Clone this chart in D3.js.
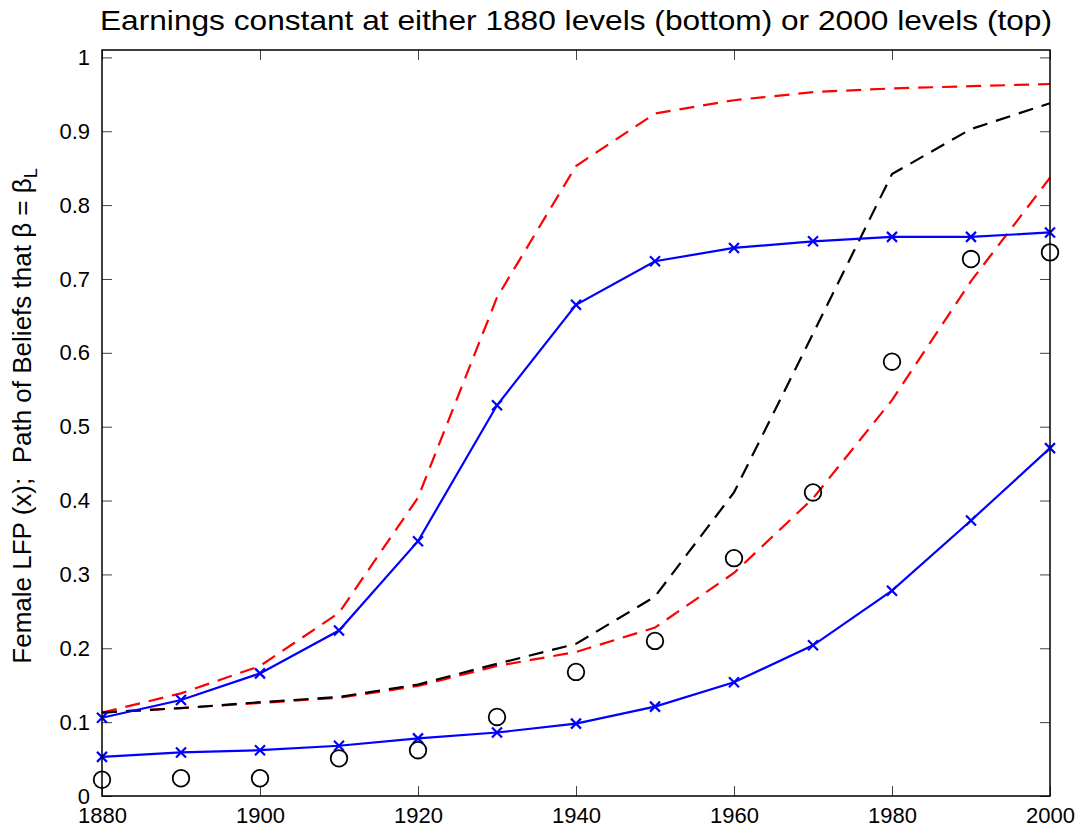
<!DOCTYPE html>
<html>
<head>
<meta charset="utf-8">
<script src="https://cdn.jsdelivr.net/npm/d3@7"></script>
<style>
  body { margin: 0; background: #fff; }
  svg { font-family: "Liberation Sans", Arial, sans-serif; }
  .tick text { font-size: 22px; fill: #000; }
  .tick line { stroke: #444; }
</style>
</head>
<body>
<div class="chart"></div>
<script>
// decades on the x axis
let years = [1880, 1890, 1900, 1910, 1920, 1930, 1940, 1950, 1960, 1970, 1980, 1990, 2000];
// female LFP, earnings at 2000 levels (top) and 1880 levels (bottom)
let lfpTop = [0.106, 0.130, 0.166, 0.224, 0.345, 0.529, 0.665, 0.724, 0.742, 0.751, 0.757, 0.757, 0.763];
let lfpBottom = [0.053, 0.059, 0.062, 0.068, 0.078, 0.086, 0.098, 0.121, 0.154, 0.204, 0.278, 0.373, 0.471];
// path of beliefs
let beliefsTop = [0.113, 0.139, 0.176, 0.248, 0.404, 0.675, 0.853, 0.924, 0.942, 0.953, 0.958, 0.961, 0.964];
let beliefsBottom = [0.113, 0.119, 0.126, 0.133, 0.149, 0.176, 0.195, 0.228, 0.302, 0.403, 0.536, 0.697, 0.837];
let beliefsBlack = [0.113, 0.119, 0.127, 0.134, 0.151, 0.179, 0.206, 0.270, 0.411, 0.626, 0.842, 0.903, 0.938];
// observed data (circles)
let observed = [0.022, 0.024, 0.024, 0.051, 0.062, 0.107, 0.168, 0.210, 0.322, 0.411, 0.588, 0.727, 0.736];

let xTicks = [1880, 1900, 1920, 1940, 1960, 1980, 2000];
let yTicks = [0, 0.1, 0.2, 0.3, 0.4, 0.5, 0.6, 0.7, 0.8, 0.9, 1];

let svgWidth = 1080;
let svgHeight = 830;
let margin = { top: 50, right: 30, bottom: 34, left: 102 };
let width = svgWidth - margin.left - margin.right;
let height = svgHeight - margin.top - margin.bottom;

let svg = d3.select(".chart")
  .append("svg")
  .attr("width", svgWidth)
  .attr("height", svgHeight);

let chartGroup = svg.append("g")
  .attr("transform", `translate(${margin.left}, ${margin.top})`);

let xScale = d3.scaleLinear().domain([1880, 2000]).range([0, width]);
let yScale = d3.scaleLinear().domain([0, 1.01]).range([height, 0]);

// axes with inward ticks on all four sides (matlab box style)
let bottomAxis = d3.axisBottom(xScale).tickValues(xTicks).tickFormat(d3.format("d"))
  .tickSizeInner(-10).tickSizeOuter(0).tickPadding(11);
let leftAxis = d3.axisLeft(yScale).tickValues(yTicks).tickFormat(d => d === 0 || d === 1 ? d : d3.format(".1f")(d))
  .tickSizeInner(-10).tickSizeOuter(0).tickPadding(12);
let topAxis = d3.axisTop(xScale).tickValues(xTicks).tickFormat("").tickSizeInner(-10).tickSizeOuter(0);
let rightAxis = d3.axisRight(yScale).tickValues(yTicks).tickFormat("").tickSizeInner(-10).tickSizeOuter(0);

chartGroup.append("g").attr("transform", `translate(0, ${height})`).call(bottomAxis);
chartGroup.append("g").call(leftAxis);
chartGroup.append("g").call(topAxis);
chartGroup.append("g").attr("transform", `translate(${width}, 0)`).call(rightAxis);
chartGroup.selectAll(".domain").remove();

let line = d3.line()
  .x((d, i) => xScale(years[i]))
  .y(d => yScale(d));

// dashed belief paths
[[beliefsTop, "#ff0000"], [beliefsBottom, "#ff0000"], [beliefsBlack, "#000000"]].forEach(function(s) {
  chartGroup.append("path")
    .datum(s[0])
    .attr("fill", "none")
    .attr("stroke", s[1])
    .attr("stroke-width", 2.2)
    .attr("stroke-dasharray", "15,9")
    .attr("d", line);
});

// solid LFP paths with x markers
[lfpTop, lfpBottom].forEach(function(series) {
  chartGroup.append("path")
    .datum(series)
    .attr("fill", "none")
    .attr("stroke", "#0000ff")
    .attr("stroke-width", 2.2)
    .attr("d", line);
  let m = 5;
  chartGroup.append("g")
    .selectAll("path")
    .data(series)
    .enter()
    .append("path")
    .attr("transform", (d, i) => `translate(${xScale(years[i])}, ${yScale(d)})`)
    .attr("d", `M${-m},${-m}L${m},${m}M${-m},${m}L${m},${-m}`)
    .attr("stroke", "#0000ff")
    .attr("stroke-width", 2.2);
});

// observed data circles
chartGroup.append("g")
  .selectAll("circle")
  .data(observed)
  .enter()
  .append("circle")
  .attr("cx", (d, i) => xScale(years[i]))
  .attr("cy", d => yScale(d))
  .attr("r", 8.3)
  .attr("fill", "none")
  .attr("stroke", "#000")
  .attr("stroke-width", 1.8);

// box frame
chartGroup.append("rect")
  .attr("width", width)
  .attr("height", height)
  .attr("fill", "none")
  .attr("stroke", "#000")
  .attr("stroke-width", 1.5);

// title
svg.append("text")
  .attr("x", margin.left + width / 2)
  .attr("y", 30)
  .attr("text-anchor", "middle")
  .attr("font-size", 28)
  .attr("textLength", 952)
  .attr("lengthAdjust", "spacingAndGlyphs")
  .text("Earnings constant at either 1880 levels (bottom) or 2000 levels (top)");

// y label
let yLabel = svg.append("text")
  .attr("transform", `translate(31, 416) rotate(-90)`)
  .attr("text-anchor", "middle")
  .attr("font-size", 26)
  .style("white-space", "pre");
yLabel.append("tspan").text("Female LFP (x);  Path of Beliefs that \u03b2 = \u03b2");
yLabel.append("tspan").attr("dy", 6).attr("font-size", 18).text("L");
</script>
</body>
</html>
